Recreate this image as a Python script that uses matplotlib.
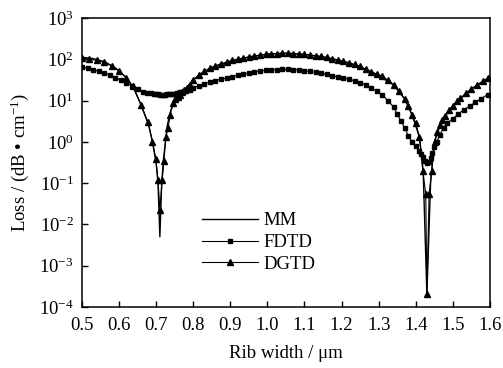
import matplotlib
matplotlib.use("Agg")
import matplotlib.pyplot as plt
from matplotlib.ticker import FixedLocator, NullLocator

plt.rcParams["font.family"] = ["Liberation Serif", "DejaVu Serif"]
plt.rcParams["mathtext.fontset"] = "custom"
plt.rcParams["mathtext.rm"] = "Liberation Serif"
plt.rcParams["mathtext.it"] = "Liberation Serif:italic"

# MM (line only)
x_mm = [0.50, 0.53, 0.56, 0.59, 0.62, 0.64, 0.66, 0.68, 0.69, 0.70, 0.705, 0.71, 0.715,
        0.72, 0.73, 0.74, 0.76, 0.78, 0.80, 0.85, 0.90, 0.95, 1.00, 1.05, 1.10, 1.15,
        1.20, 1.25, 1.30, 1.34, 1.37, 1.39, 1.41, 1.42, 1.43, 1.44, 1.45, 1.47, 1.50,
        1.55, 1.60]
y_mm = [112, 104, 88, 62, 36, 20, 7.5, 2.5, 1.0, 0.3, 0.1, 0.005, 0.1,
        0.4, 2.5, 6, 13, 20, 32, 62, 88, 114, 134, 140, 131, 114,
        90, 66, 40, 24, 11, 4.5, 1.3, 0.2, 0.0002, 0.1, 1.0, 3.2, 7.5,
        19, 37]

# FDTD (squares)
x_fdtd = [0.50, 0.515, 0.53, 0.545, 0.56, 0.575, 0.59, 0.605, 0.62, 0.635, 0.65, 0.664,
          0.675, 0.685, 0.695, 0.70, 0.705, 0.71, 0.715, 0.72, 0.725, 0.73, 0.735, 0.74,
          0.745, 0.75, 0.755, 0.76, 0.765, 0.77, 0.775, 0.78, 0.79, 0.80, 0.815, 0.83,
          0.845, 0.86, 0.875, 0.89, 0.905, 0.92, 0.935, 0.95, 0.965, 0.98, 0.995, 1.01,
          1.025, 1.04, 1.055, 1.07, 1.085, 1.10, 1.115, 1.13, 1.145, 1.16, 1.175, 1.19,
          1.205, 1.22, 1.235, 1.25, 1.265, 1.28, 1.295, 1.31, 1.325, 1.34, 1.35, 1.36,
          1.37, 1.38, 1.39, 1.40, 1.41, 1.415, 1.42, 1.425, 1.43, 1.435, 1.44, 1.445,
          1.45, 1.457, 1.465, 1.475, 1.485, 1.50, 1.515, 1.53, 1.546, 1.56, 1.575, 1.594]
y_fdtd = [65, 61, 56, 51, 46, 42, 36, 31, 27, 23, 19.5, 16.5,
          15.5, 15, 14.5, 14.3, 14.1, 14, 14, 14, 14, 14.1, 14.2, 14.3,
          14.5, 14.8, 15.1, 15.5, 15.9, 16.3, 16.8, 17.4, 18.5, 20, 23, 25.5,
          28, 30.5, 33, 35, 38, 41, 44, 47, 50, 52, 54, 55.5,
          56.5, 57, 57, 56.5, 55, 53, 51, 48, 45.5, 43, 40, 37.5,
          35, 33, 30, 27, 24, 20.5, 17, 13.5, 10, 7, 4.7, 3.2,
          2.2, 1.4, 1.0, 0.8, 0.6, 0.5, 0.42, 0.35, 0.3, 0.33, 0.4, 0.55,
          0.75, 1.0, 1.5, 2.2, 2.9, 3.6, 4.8, 6.0, 7.4, 9.0, 11, 14]

# DGTD (triangles)
x_dgtd = [0.50, 0.52, 0.54, 0.56, 0.58, 0.60, 0.62, 0.637, 0.659, 0.678, 0.69, 0.699,
          0.705, 0.710, 0.716, 0.721, 0.726, 0.732, 0.738, 0.745, 0.752, 0.758, 0.764,
          0.770, 0.776, 0.783, 0.79, 0.80, 0.815, 0.83, 0.845, 0.86, 0.875, 0.89, 0.905,
          0.92, 0.935, 0.95, 0.965, 0.98, 0.995, 1.01, 1.025, 1.04, 1.055, 1.07, 1.085,
          1.10, 1.115, 1.13, 1.145, 1.16, 1.175, 1.19, 1.205, 1.22, 1.235, 1.25, 1.265,
          1.28, 1.295, 1.31, 1.325, 1.34, 1.355, 1.37, 1.38, 1.39, 1.40, 1.41, 1.419,
          1.427, 1.430, 1.436, 1.443, 1.451, 1.458, 1.465, 1.472, 1.48, 1.49, 1.50, 1.51,
          1.52, 1.535, 1.55, 1.565, 1.58, 1.595]
y_dgtd = [105, 101, 94, 84, 70, 52, 35, 22, 8, 3.0, 1.0, 0.39,
          0.117, 0.022, 0.117, 0.35, 1.3, 2.2, 4.5, 8.8, 11, 12.5, 14,
          16, 18, 20, 24, 32, 42, 52, 61, 70, 78, 86, 94,
          101, 107, 114, 120, 126, 131, 135, 138, 141, 140, 138, 135,
          131, 127, 122, 117, 111, 104, 97, 90, 83, 75, 67, 58,
          50, 44, 39, 31, 24, 17, 11, 7.2, 4.5, 2.8, 1.3, 0.2,
          0.054, 0.0002, 0.054, 0.2, 1.0, 1.7, 2.5, 3.3, 4.3, 6.0, 7.5, 9.5,
          11.5, 15, 19, 24, 29, 35]

x_ticks = [0.5, 0.6, 0.7, 0.8, 0.9, 1.0, 1.1, 1.2, 1.3, 1.4, 1.5, 1.6]
y_ticks = [1e-4, 1e-3, 1e-2, 1e-1, 1e0, 1e1, 1e2, 1e3]
y_labels = [r"$10^{-4}$", r"$10^{-3}$", r"$10^{-2}$", r"$10^{-1}$",
            r"$10^{0}$", r"$10^{1}$", r"$10^{2}$", r"$10^{3}$"]

fig = plt.figure(figsize=(5.03, 3.68), dpi=100)
ax = fig.add_axes([0.163, 0.166, 0.811, 0.785])

ax.plot(x_mm, y_mm, "-", color="black", lw=1.0, label="MM")
ax.plot(x_fdtd, y_fdtd, "-", color="black", lw=0.8, marker="s", ms=3.3,
        label="FDTD")
ax.plot(x_dgtd, y_dgtd, "-", color="black", lw=0.8, marker="^", ms=4.3,
        label="DGTD")

ax.set_yscale("log")
ax.set_xlim(0.5, 1.6)
ax.set_ylim(1e-4, 1e3)
ax.set_xticks(x_ticks)
ax.set_xticklabels([f"{t:.1f}" for t in x_ticks])
ax.yaxis.set_major_locator(FixedLocator(y_ticks))
ax.set_yticklabels(y_labels)
ax.yaxis.set_minor_locator(NullLocator())
ax.tick_params(direction="in", length=4, width=1, labelsize=13.5,
               top=False, right=False)
ax.tick_params(axis="x", pad=7)
ax.tick_params(axis="y", pad=6)
for s in ax.spines.values():
    s.set_linewidth(1.1)

ax.set_xlabel("Rib width / μm", fontsize=13.5, labelpad=8)
ax.set_ylabel(r"Loss / (dB • cm$^{-1}$)", fontsize=13.5, labelpad=6)

ax.legend(loc="upper left", bbox_to_anchor=(0.27, 0.36), frameon=False,
          fontsize=13.5, handlelength=3.0, labelspacing=0.25,
          borderpad=0, handletextpad=0.3)

fig.savefig("out.png", dpi=100)
